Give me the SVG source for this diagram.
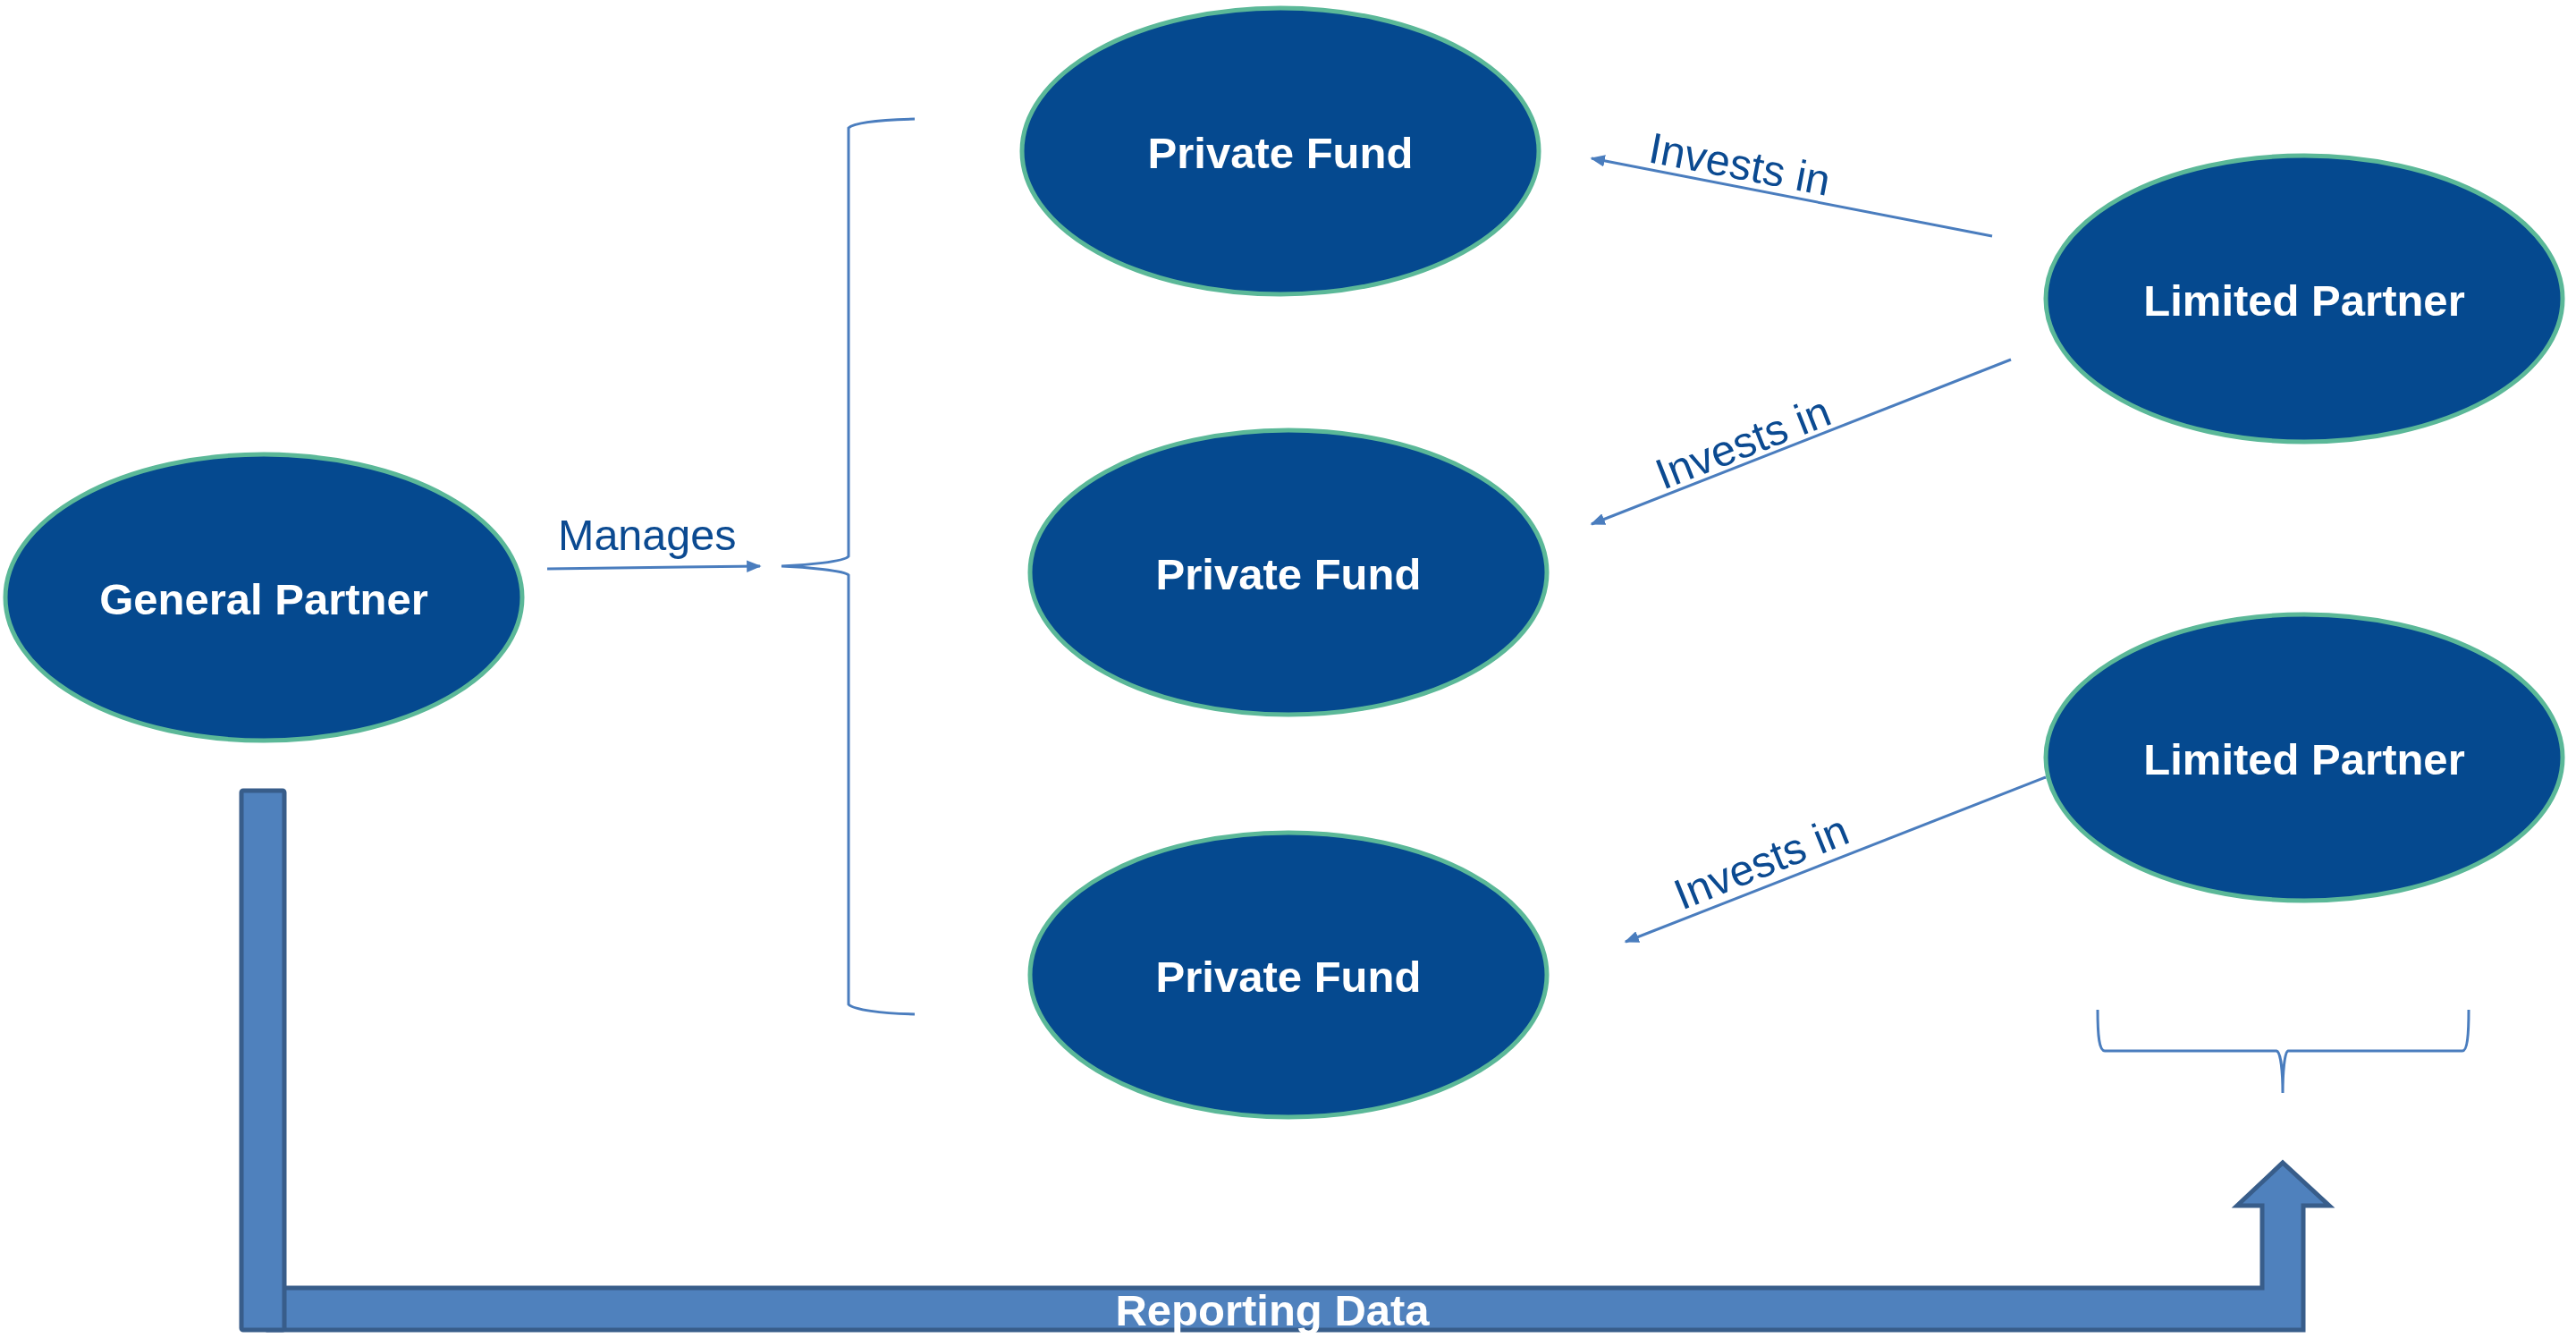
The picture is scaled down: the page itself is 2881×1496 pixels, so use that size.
<svg xmlns="http://www.w3.org/2000/svg" width="2881" height="1496" viewBox="0 0 2881 1496">
<style>
.node{fill:#05498F;stroke:#5BB898;stroke-width:5}
.ntext{font-family:"Liberation Sans",Arial,sans-serif;font-weight:bold;font-size:49px;fill:#FFFFFF;text-anchor:middle}
.conn{stroke:#4A7DBE;stroke-width:3;fill:none}
.lbl{font-family:"Liberation Sans",Arial,sans-serif;font-size:48.5px;fill:#0B4A91}
.big{fill:#4F81BD;stroke:#385D8A;stroke-width:5;stroke-linejoin:miter}
</style>
<defs>
<marker id="arr" viewBox="0 0 10 10" refX="9" refY="5" markerWidth="5.5" markerHeight="4.5" orient="auto" markerUnits="strokeWidth" preserveAspectRatio="none">
<path d="M0,0 L10,5 L0,10 z" fill="#4A7DBE"/>
</marker>
</defs>
<rect width="2881" height="1496" fill="#FFFFFF"/>
<g id="connectors">
<line class="conn" x1="612" y1="636" x2="850" y2="633" marker-end="url(#arr)"/>
<path class="conn" d="M1023,133 C985,134 955,137 949,143 L949,622 C945,628 900,632 874,633 C900,634 945,638 949,643 L949,1123 C955,1129 985,1133 1023,1134"/>
<line class="conn" x1="2228" y1="264" x2="1780" y2="177" marker-end="url(#arr)"/>
<line class="conn" x1="2249" y1="402" x2="1780" y2="586" marker-end="url(#arr)"/>
<line class="conn" x1="2288" y1="869" x2="1818" y2="1053" marker-end="url(#arr)"/>
<path class="conn" d="M2346,1129 C2346,1160 2348,1175 2354,1175 L2546,1175 C2551,1176 2553,1200 2553,1222 C2553,1200 2555,1176 2559,1175 L2754,1175 C2759,1175 2761,1160 2761,1129"/>
<text class="lbl" x="624" y="615">Manages</text>
<text class="lbl" transform="translate(1842,181) rotate(10.7)">Invests in</text>
<text class="lbl" transform="translate(1860,548) rotate(-21.4)">Invests in</text>
<text class="lbl" transform="translate(1881,1018) rotate(-22)">Invests in</text>
</g>
<g id="reporting-arrow">
<path class="big" d="M300,1440 L2530,1440 L2530,1348 L2502,1348 L2553,1300 L2605,1348 L2576,1348 L2576,1487 L300,1487 Z"/>
<rect class="big" x="270" y="884" width="48" height="603" rx="2"/>
<text class="ntext" x="1423" y="1482">Reporting Data</text>
</g>
<g id="general-partner">
<ellipse class="node" cx="295" cy="668" rx="289" ry="160"/>
<text class="ntext" x="295" y="687">General Partner</text>
</g>
<g id="private-fund-1">
<ellipse class="node" cx="1432" cy="169" rx="289" ry="160"/>
<text class="ntext" x="1432" y="188">Private Fund</text>
</g>
<g id="private-fund-2">
<ellipse class="node" cx="1441" cy="640" rx="289" ry="159"/>
<text class="ntext" x="1441" y="659">Private Fund</text>
</g>
<g id="private-fund-3">
<ellipse class="node" cx="1441" cy="1090" rx="289" ry="159"/>
<text class="ntext" x="1441" y="1109">Private Fund</text>
</g>
<g id="limited-partner-1">
<ellipse class="node" cx="2577" cy="334" rx="289" ry="160"/>
<text class="ntext" x="2577" y="353">Limited Partner</text>
</g>
<g id="limited-partner-2">
<ellipse class="node" cx="2577" cy="847" rx="289" ry="160"/>
<text class="ntext" x="2577" y="866">Limited Partner</text>
</g>
</svg>
